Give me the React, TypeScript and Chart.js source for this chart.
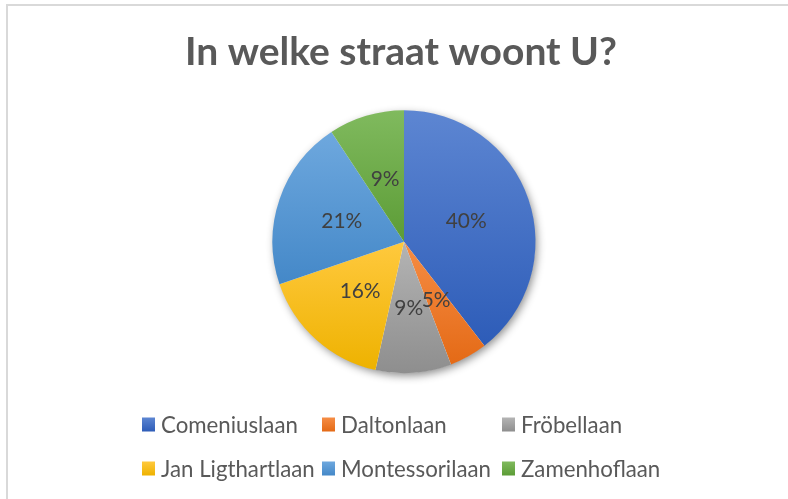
import React, { useEffect, useRef } from "react";
import { Chart, registerables } from "chart.js";

Chart.register(...registerables);

const titleText = "In welke straat woont U?";
const categories = ["Comeniuslaan", "Daltonlaan", "Fröbellaan", "Jan Ligthartlaan", "Montessorilaan", "Zamenhoflaan"];
const counts = [17, 2, 4, 7, 9, 4];
const colorsTop = ["#5D86D2", "#F68D45", "#B4B4B4", "#FFC93E", "#6EA8DE", "#80BA5E"];
const colorsBottom = ["#2D5CB8", "#E46A16", "#8E8E8E", "#EEB200", "#4488C8", "#5C9C36"];
const colorsMid = ["#4472C4", "#ED7D31", "#A5A5A5", "#FFC000", "#5B9BD5", "#70AD47"];

const FONT = "Lato, 'Open Sans', sans-serif";

function fitFont(ctx: CanvasRenderingContext2D, text: string, weight: string, width: number) {
  ctx.font = `${weight} 100px ${FONT}`;
  const w = ctx.measureText(text).width;
  return (100 * width) / w;
}

const sliceGradient = (context: any) => {
  const i = context.dataIndex;
  const chart = context.chart;
  const area = chart.chartArea;
  if (!area || context.type !== "data") return colorsMid[i] || "#888";
  const cx = (area.left + area.right) / 2;
  const cy = (area.top + area.bottom) / 2;
  const r = Math.min(area.width, area.height) / 2;
  const total = counts.reduce((a, b) => a + b, 0);
  let cum = 0;
  for (let k = 0; k < i; k++) cum += counts[k];
  const a0 = -Math.PI / 2 + (2 * Math.PI * cum) / total;
  const a1 = a0 + (2 * Math.PI * counts[i]) / total;
  const ys = [cy, cy + r * Math.sin(a0), cy + r * Math.sin(a1)];
  const within = (a: number) => {
    for (let t = a - 4 * Math.PI; t <= a + 4 * Math.PI; t += 2 * Math.PI) {
      if (t >= a0 && t <= a1) return true;
    }
    return false;
  };
  if (within(-Math.PI / 2)) ys.push(cy - r);
  if (within(Math.PI / 2)) ys.push(cy + r);
  const y0 = Math.min(...ys);
  const y1 = Math.max(...ys);
  const g = chart.ctx.createLinearGradient(0, y0, 0, y1 + 0.01);
  g.addColorStop(0, colorsTop[i]);
  g.addColorStop(1, colorsBottom[i]);
  return g;
};

const decorPlugin = {
  id: "excelDecor",
  beforeDraw(chart: any) {
    const ctx = chart.ctx as CanvasRenderingContext2D;
    ctx.save();
    ctx.fillStyle = "#ffffff";
    ctx.fillRect(0, 0, chart.width, chart.height);
    ctx.strokeStyle = "#D9D9D9";
    ctx.lineWidth = 2;
    ctx.strokeRect(7, 5, chart.width + 20, chart.height + 20);
    // title
    const size = fitFont(ctx, titleText, "bold", 432);
    ctx.font = `bold ${size}px ${FONT}`;
    ctx.fillStyle = "#595959";
    ctx.textAlign = "center";
    ctx.textBaseline = "alphabetic";
    ctx.fillText(titleText, 401, 64.5);
    ctx.restore();
  },
  beforeDatasetsDraw(chart: any) {
    const meta = chart.getDatasetMeta(0);
    const arc = meta.data[0];
    if (!arc) return;
    const ctx = chart.ctx as CanvasRenderingContext2D;
    ctx.save();
    ctx.shadowColor = "rgba(0,0,0,0.45)";
    ctx.shadowBlur = 9;
    ctx.shadowOffsetX = 2;
    ctx.shadowOffsetY = 3;
    ctx.fillStyle = "#ffffff";
    ctx.beginPath();
    ctx.arc(arc.x, arc.y, arc.outerRadius - 0.5, 0, Math.PI * 2);
    ctx.fill();
    ctx.restore();
  },
  afterDatasetsDraw(chart: any) {
    const ctx = chart.ctx as CanvasRenderingContext2D;
    const meta = chart.getDatasetMeta(0);
    const total = counts.reduce((a, b) => a + b, 0);
    ctx.save();
    const lsize = fitFont(ctx, "40%", "normal", 41);
    ctx.font = `${lsize}px ${FONT}`;
    ctx.fillStyle = "#404040";
    ctx.textAlign = "center";
    ctx.textBaseline = "middle";
    meta.data.forEach((el: any, i: number) => {
      const p = el.tooltipPosition();
      const pct = Math.round((counts[i] / total) * 100) + "%";
      ctx.fillText(pct, p.x, p.y + 1);
    });
    ctx.restore();

    // legend
    ctx.save();
    const fsize = fitFont(ctx, "Comeniuslaan", "normal", 137);
    ctx.font = `${fsize}px ${FONT}`;
    ctx.textAlign = "left";
    ctx.textBaseline = "middle";
    categories.forEach((name, i) => {
      const col = i % 3;
      const row = Math.floor(i / 3);
      const bx = 142 + col * 180;
      const cyRow = 424.5 + row * 44;
      const g = ctx.createLinearGradient(0, cyRow - 7, 0, cyRow + 7);
      g.addColorStop(0, colorsTop[i]);
      g.addColorStop(1, colorsBottom[i]);
      ctx.fillStyle = g;
      ctx.fillRect(bx, cyRow - 7, 13, 14);
      ctx.fillStyle = "#595959";
      ctx.fillText(name, bx + 19, cyRow + 1);
    });
    ctx.restore();
  },
};

export default function App() {
  const ref = useRef<HTMLCanvasElement | null>(null);
  useEffect(() => {
    if (!ref.current) return;
    const cx = 404, cy = 241.7, R = 131.5;
    const chart = new Chart(ref.current, {
      type: "pie",
      data: {
        labels: categories,
        datasets: [
          {
            data: counts,
            backgroundColor: sliceGradient as any,
            borderWidth: 0,
            hoverBorderWidth: 0,
            hoverOffset: 0,
            offset: 0,
          },
        ],
      },
      options: {
        responsive: true,
        maintainAspectRatio: false,
        animation: false,
        layout: {
          padding: { left: cx - R, right: 788 - cx - R, top: cy - R, bottom: 499 - cy - R },
        },
        plugins: {
          legend: { display: false },
          title: { display: false },
          tooltip: { enabled: false },
        },
        events: [],
      },
      plugins: [decorPlugin],
    });
    return () => chart.destroy();
  }, []);
  return (
    <div style={{ position: "fixed", left: 0, top: 0, width: 788, height: 499, background: "#fff" }}>
      <canvas ref={ref} />
    </div>
  );
}
